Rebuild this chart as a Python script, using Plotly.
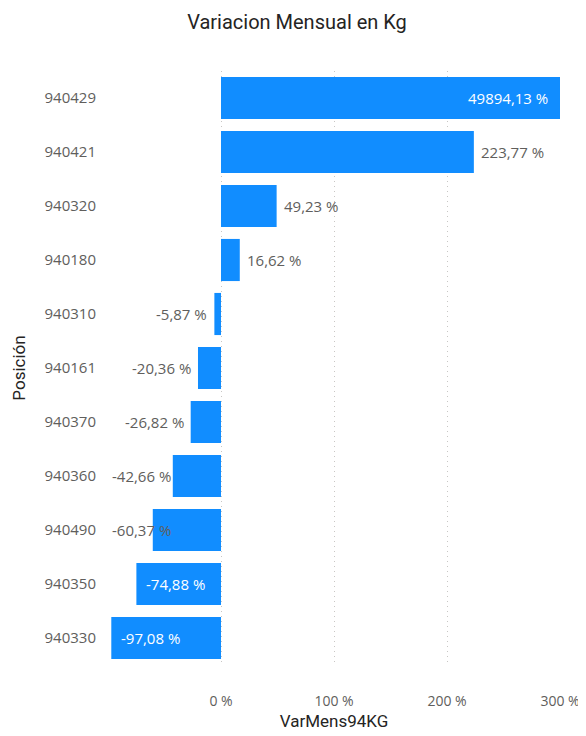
import plotly.graph_objects as go

categories = ["940429", "940421", "940320", "940180", "940310", "940161",
              "940370", "940360", "940490", "940350", "940330"]
values = [49894.13, 223.77, 49.23, 16.62, -5.87, -20.36, -26.82, -42.66, -60.37, -74.88, -97.08]
x_range = [-100, 300]
tick_vals = [0, 100, 200, 300]
tick_text = ["0 %", "100 %", "200 %", "300 %"]

BLUE = "#118DFF"
GRAY = "#605E5C"
FONT = "Open Sans, Segoe UI, sans-serif"

def fmt(v):
    return f"{v:.2f}".replace(".", ",") + " %"

n = len(categories)
order = categories[::-1]  # bottom to top

fig = go.Figure(go.Bar(
    y=categories, x=values, orientation="h",
    marker=dict(color=BLUE, line=dict(width=0)),
    width=0.78, hoverinfo="skip", cliponaxis=True,
))

px_per_unit = 452 / (x_range[1] - x_range[0])
annotations = []
for cat, v in zip(categories, values):
    yi = order.index(cat)
    txt = fmt(v)
    est_w = len(txt) * 8.2
    common = dict(y=yi, yref="y", xref="x", showarrow=False)
    if v > x_range[1]:
        annotations.append(dict(x=x_range[1], text=txt, xanchor="right", xshift=-10,
                                font=dict(color="white", size=15, family=FONT), **common))
    elif v >= 0:
        annotations.append(dict(x=v, text=txt, xanchor="left", xshift=5,
                                font=dict(color=GRAY, size=15, family=FONT), **common))
    else:
        bar_px = -v * px_per_unit
        avail = (v - x_range[0]) * px_per_unit
        if bar_px > est_w + 16 and avail < est_w + 6:
            annotations.append(dict(x=v, text=txt, xanchor="left", xshift=8,
                                    font=dict(color="white", size=15, family=FONT), **common))
        elif avail < est_w + 6:
            annotations.append(dict(x=x_range[0], text=txt, xanchor="left", xshift=2,
                                    font=dict(color=GRAY, size=15, family=FONT), **common))
        else:
            annotations.append(dict(x=v, text=txt, xanchor="right", xshift=-5,
                                    font=dict(color=GRAY, size=15, family=FONT), **common))

fig.update_layout(
    width=578, height=728,
    paper_bgcolor="white", plot_bgcolor="white",
    margin=dict(l=100, r=26, t=63, b=71),
    title=dict(text="Variacion Mensual en Kg", x=0.5, xanchor="center", y=0.981, yanchor="middle",
               font=dict(family="Roboto, sans-serif", size=20, color="#252423")),
    showlegend=False,
    annotations=annotations,
    xaxis=dict(range=x_range, tickvals=tick_vals, ticktext=tick_text,
               showgrid=True, gridcolor="#C8C6C4", griddash="1px,4px", gridwidth=1,
               zeroline=False, showline=False, automargin=False,
               tickfont=dict(family=FONT, size=14, color=GRAY),
               ticklabelstandoff=26,
               title=dict(text="VarMens94KG", standoff=6,
                          font=dict(family="Roboto, sans-serif", size=17, color="#252423"))),
    yaxis=dict(type="category", categoryorder="array", categoryarray=order,
               range=[-0.5, n - 0.5],
               showgrid=False, zeroline=False, showline=False, automargin=False,
               tickfont=dict(family=FONT, size=15, color=GRAY),
               ticklabelstandoff=11,
               title=dict(text="Posición", standoff=14,
                          font=dict(family="Roboto, sans-serif", size=17, color="#252423"))),
)

fig.write_html("out.html")
